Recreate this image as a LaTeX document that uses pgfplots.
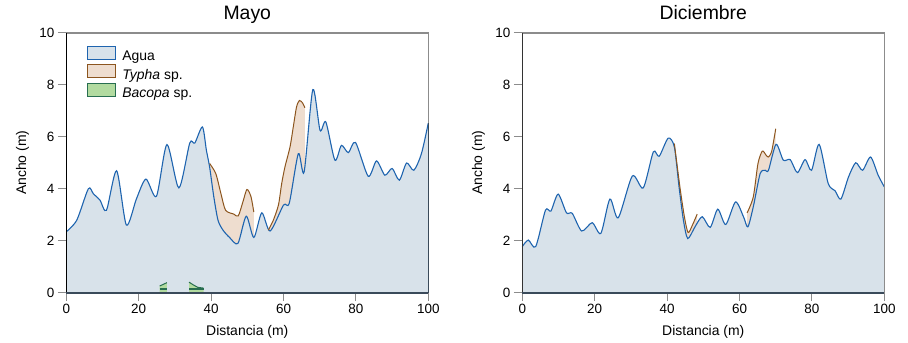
\documentclass[border=0pt]{standalone}
\usepackage{pgfplots}
\usepackage{pgfplotstable}
\pgfplotsset{compat=1.18}
\usepackage{fontspec}
\setmainfont{Liberation Sans}

\definecolor{aguaF}{HTML}{D8E2EA}
\definecolor{aguaL}{HTML}{1E64AF}
\definecolor{typhaF}{HTML}{EEDDCF}
\definecolor{typhaL}{HTML}{8C551E}
\definecolor{bacF}{HTML}{B2DBA0}
\definecolor{bacL}{HTML}{286E50}
\definecolor{frameG}{HTML}{8C8C8C}
\definecolor{botC}{HTML}{3A4A5A}

\pgfplotstableread{
x y
0 2.34
2.9 2.79
6.1 4.0
7.5 3.8
9.3 3.56
11.1 3.17
13.9 4.69
16.6 2.6
19.4 3.62
22 4.37
24.9 3.71
27.8 5.7
31.1 4.03
34.1 5.76
35.5 5.76
37.6 6.38
38.7 5.48
39.6 4.83
40.7 3.73
41.9 2.79
43.3 2.4
45.1 2.12
47.4 1.89
49.7 2.94
51.8 2.12
54.0 3.07
56.3 2.37
60 3.37
61.6 3.45
64.1 5.35
65.7 4.65
68.1 7.82
70.1 6.25
71.7 6.57
74.2 5.1
76 5.67
77.9 5.39
79.9 5.78
83.4 4.48
85.7 5.07
88 4.52
90 4.78
92 4.33
94 4.99
96 4.71
98.1 5.35
100 6.53
}\mayoAgua

\pgfplotstableread{
x y
39.6 4.97
41.3 4.58
42.7 3.82
44 3.17
46.3 3.02
47.5 2.95
48.8 3.5
49.9 3.97
51 3.7
51.8 3.1
}\mayoTyphaA

\pgfplotstableread{
x y
55.8 2.40
57.2 2.79
58.6 3.37
59.5 4.2
60.4 4.84
61.8 5.61
62.7 6.38
63.6 7.15
64.4 7.4
65.3 7.3
65.9 7.12
}\mayoTyphaB

\pgfplotstableread{
x y
25.8 0.25
27.8 0.38
}\bacA

\pgfplotstableread{
x y
33.9 0.40
35.0 0.30
36.3 0.20
37.9 0.17
}\bacB

\pgfplotstableread{
x y
0 1.77
1.66 2.02
3.7 1.77
6.4 3.17
7.9 3.14
9.9 3.79
12.2 3.07
13.8 3.05
16.4 2.37
19.3 2.69
21.7 2.28
24.2 3.6
26.5 2.88
30.4 4.49
33.4 4.03
36.2 5.42
37.8 5.25
40.3 5.95
42 5.61
43.3 4.07
44.5 2.79
45.7 2.08
47.7 2.53
49.7 2.92
51.9 2.51
54 3.21
56.2 2.62
58.9 3.49
61.1 2.92
62.3 2.53
63.8 3.3
65.7 4.58
67.1 4.71
68 4.71
70.1 5.71
72.1 5.1
74 5.12
76 4.62
78.1 5.12
79.9 4.71
82 5.71
84.5 4.2
86.4 3.92
88 3.6
90.1 4.45
92.1 5.0
94 4.71
96.2 5.22
98.3 4.52
100 4.07
}\dicAgua

\pgfplotstableread{
x y
42 5.74
43.6 4.0
44.8 2.9
45.8 2.31
47 2.6
48.3 3.02
}\dicTyphaA

\pgfplotstableread{
x y
62.1 3.07
63.8 3.68
65.1 4.97
66.3 5.45
67.3 5.3
68 5.22
68.9 5.45
70 6.31
}\dicTyphaB

\pgfplotsset{
  boxleg/.style={legend image code/.code={\draw[line width=1bp,##1] (0bp,-2.5bp) rectangle (28bp,10.3bp); \path (33bp,0bp);}},
  panel/.style={
    scale only axis, width=362bp, height=259.5bp,
    xmin=0, xmax=100, ymin=0, ymax=10,
    xtick={0,20,...,100}, ytick={0,2,...,10},
    xtick pos=left, ytick pos=left,
    tick align=outside, major tick length=8.5bp,
    tick style={draw=frameG, line width=1bp},
    axis line style={draw=none},
    clip=false,
    tick label style={font=\fontsize{13.5}{16}\selectfont},
    /pgf/number format/assume math mode=true,
    label style={font=\fontsize{14}{16}\selectfont},
    xlabel={Distancia (m)}, ylabel={Ancho (m)},
    xlabel style={at={(axis description cs:0.5,-0.164)}, anchor=base},
    ylabel style={at={(axis description cs:-0.111,0.5)}, anchor=base},
    title style={at={(axis description cs:0.5,1.0308)}, anchor=base, font=\fontsize{19.5}{22}\selectfont},
  },
  aguafill/.style={fill=aguaF, draw=none, smooth, tension=0.45, forget plot},
  agualine/.style={aguaL, line width=1.1bp, smooth, tension=0.45, forget plot},
  typhafill/.style={fill=typhaF, draw=none, smooth, tension=0.45, forget plot},
  typhaline/.style={typhaL, line width=1bp, smooth, tension=0.45, forget plot},
}

\begin{document}
\begin{tikzpicture}[x=1bp,y=1bp]
\useasboundingbox (0,0) rectangle (908,342);
\begin{axis}[panel, at={(66.3bp,49.5bp)}, anchor=south west, title={Mayo},
  legend style={at={(axis description cs:0.049,0.958)}, anchor=north west, draw=none, fill=none,
    font=\fontsize{14}{16}\selectfont, row sep=0.5bp, nodes={inner sep=1.5bp}},
  legend cell align=left]
\addlegendimage{boxleg, draw=aguaL, fill=aguaF}
\addlegendentry{Agua}
\addlegendimage{boxleg, draw=typhaL, fill=typhaF}
\addlegendentry{\textit{Typha} sp.}
\addlegendimage{boxleg, draw=bacL, fill=bacF}
\addlegendentry{\textit{Bacopa} sp.}
\addplot[typhafill] table {\mayoTyphaA} \closedcycle;
\addplot[typhafill] table {\mayoTyphaB} \closedcycle;
\addplot[aguafill] table {\mayoAgua} \closedcycle;
\addplot[agualine] table {\mayoAgua};
\addplot[typhaline] table {\mayoTyphaA};
\addplot[typhaline] table {\mayoTyphaB};
\addplot[fill=bacF, draw=none, forget plot] table {\bacA} \closedcycle;
\addplot[fill=bacF, draw=none, forget plot] table {\bacB} \closedcycle;
\addplot[bacL, line width=1bp, forget plot] table {\bacA};
\addplot[bacL, line width=1bp, forget plot] table {\bacB};
\addplot[bacL, line width=2bp, forget plot] coordinates {(25.8,0.12) (27.8,0.12)};
\addplot[bacL, line width=2bp, forget plot] coordinates {(33.9,0.12) (37.9,0.12)};
\draw[frameG, line width=1.3bp] (rel axis cs:0,1) -- (rel axis cs:1,1) -- (rel axis cs:1,0.653);
\draw[botC, line width=1.3bp] (axis cs:100,0) -- (axis cs:100,6.53);
\draw[black, line width=1.2bp] (rel axis cs:0,0) -- (rel axis cs:0,1);
\draw[botC, line width=2bp] (rel axis cs:0,0) -- (rel axis cs:1,0);
\end{axis}

\begin{axis}[panel, at={(522.3bp,49.5bp)}, anchor=south west, title={Diciembre}]
\addplot[typhafill] table {\dicTyphaA} \closedcycle;
\addplot[typhafill] table {\dicTyphaB} \closedcycle;
\addplot[aguafill] table {\dicAgua} \closedcycle;
\addplot[agualine] table {\dicAgua};
\addplot[typhaline] table {\dicTyphaA};
\addplot[typhaline] table {\dicTyphaB};
\draw[frameG, line width=1.3bp] (rel axis cs:0,1) -- (rel axis cs:1,1) -- (rel axis cs:1,0);
\draw[black!80, line width=1.2bp] (rel axis cs:0,0) -- (rel axis cs:0,1);
\draw[botC, line width=2bp] (rel axis cs:0,0) -- (rel axis cs:1,0);
\end{axis}
\end{tikzpicture}
\end{document}
